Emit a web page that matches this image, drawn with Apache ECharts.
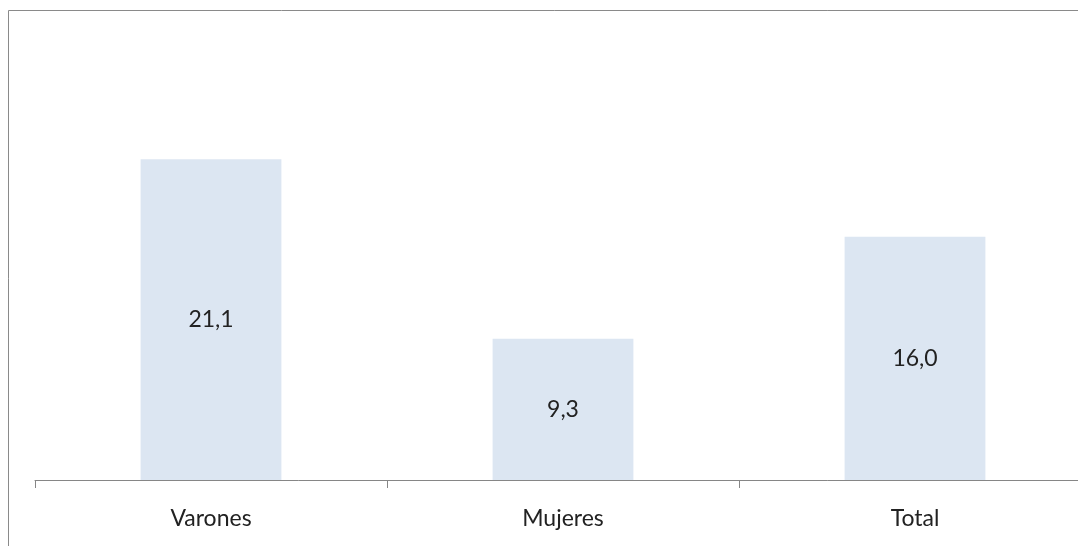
<!DOCTYPE html>
<html>
<head>
<meta charset="utf-8">
<script src="https://cdn.jsdelivr.net/npm/echarts@6/dist/echarts.min.js"></script>
<style>
html,body{margin:0;padding:0;background:#fff;overflow:hidden;width:1078px;height:546px;}
#chart{width:1100px;height:546px;}
</style>
</head>
<body>
<div id="chart"></div>
<script>
var categories = ['Varones', 'Mujeres', 'Total'];
var values = [21.1, 9.3, 16.0];

var chart = echarts.init(document.getElementById('chart'), null, {renderer: 'canvas'});
chart.setOption({
  animation: false,
  backgroundColor: '#ffffff',
  graphic: [{
    type: 'rect',
    x: 8.5, y: 10.5,
    shape: {x: 0, y: 0, width: 1200, height: 1000},
    style: {fill: 'none', stroke: '#8a8a8a', lineWidth: 1},
    silent: true
  }],
  grid: {left: 35, width: 1056, top: 100, bottom: 66, containLabel: false},
  xAxis: {
    type: 'category',
    data: categories,
    axisLine: {lineStyle: {color: '#868686', width: 1}},
    axisTick: {show: true, length: 8, lineStyle: {color: '#868686'}},
    axisLabel: {
      margin: 27,
      color: '#222222',
      fontFamily: 'Lato',
      fontSize: 23
    }
  },
  yAxis: {
    type: 'value',
    min: 0, max: 25,
    show: false,
    splitLine: {show: false}
  },
  series: [{
    type: 'bar',
    data: values,
    barWidth: '40%',
    itemStyle: {color: '#dce6f2'},
    label: {
      show: true,
      position: 'inside',
      color: '#222222',
      fontFamily: 'Lato',
      fontSize: 23,
      formatter: function (p) { return p.value.toFixed(1).replace('.', ','); }
    }
  }]
});
</script>
</body>
</html>
